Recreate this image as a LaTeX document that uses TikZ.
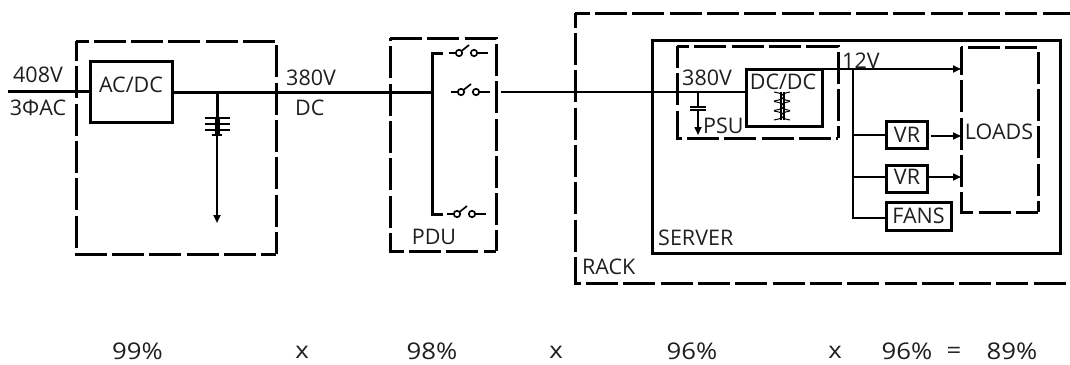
\documentclass[tikz,border=0pt]{standalone}
\usepackage{fontspec}
\setmainfont{Open Sans}
\newfontfamily\widefont[FakeStretch=1.12]{Open Sans}
\usetikzlibrary{arrows.meta}
\tikzset{
  x=1pt,y=-1pt,
  every node/.style={font=\fontsize{21.5}{23}\selectfont,text=black!88},
  lbl/.style={inner sep=0pt},
  big/.style={font=\widefont\fontsize{23}{24}\selectfont},
  dbox/.style={line width=3pt,dash pattern=on 32pt off 5.3pt,dash phase=#1},
  sbox/.style={draw,line width=3pt,inner sep=0pt,minimum width=#1},
  wire/.style={line width=2.2pt},
  thick wire/.style={line width=3pt},
  tip/.style={-{Triangle[length=8pt,width=7pt]}},
  pics/sw/.style={code={
    \draw[line width=1.7pt] (0,0) -- (7,0);
    \draw[line width=1.7pt] (10,0) circle[radius=3.2];
    \draw[line width=1.7pt] (12.5,-2) -- (20,-8);
    \draw[line width=1.7pt] (25,0) circle[radius=3.2];
    \draw[line width=1.7pt] (28,0) -- (39,0);
  }}
}
\begin{document}
\begin{tikzpicture}
\useasboundingbox (0,0) rectangle (1070,364);
% left block
\draw[dbox=19.5pt] (76,41) -- (276,41) -- (276,254);
\draw[dbox=12pt] (76,41) -- (76,254) -- (276,254);
\node[sbox=82pt,minimum height=61pt] (acdc) at (131,91.5) {};
\node[lbl] at (131,85) {AC/DC};
\coordinate (in) at (8,91.5);
\coordinate (busA) at (432,92);
\coordinate (tapA) at (217,92);
\coordinate (plateA) at (217,118);
\coordinate (gndA) at (217,223);
\draw[thick wire] (in) -- (acdc.west);
\draw[thick wire] (acdc.east |- tapA) -- (busA);
\draw[thick wire] (tapA) -- (plateA);
\draw[wire,tip] (plateA) -- (gndA);
\draw[line width=2pt] (205,118) -- (230,118) (205,130) -- (230,130);
\draw[line width=2pt] (205,124) -- (230,124) (212,135) -- (222,135);
\draw[line width=5pt] (217,118) -- (217,134);
\node[lbl] at (38,75) {408V};
\node[lbl] at (38,108) {3ΦAC};
\node[lbl,anchor=west] at (286,78) {380V};
\node[lbl,anchor=west] at (295,108) {DC};
% PDU
\draw[dbox=0pt] (390,38) -- (496,38) -- (496,251);
\draw[dbox=29pt] (390,38) -- (390,251) -- (496,251);
\coordinate (busT) at (443,53);
\coordinate (busB) at (443,214);
\draw[thick wire] (busT) -- (432,53) -- (432,214) -- (busB);
\pic at (449,53) {sw};
\pic at (451,92) {sw};
\pic at (447,214) {sw};
\node[lbl] at (434,237) {PDU};
% rack
\draw[dbox=17.3pt] (575,13) -- (1070,13);
\draw[dbox=17.3pt] (575,13) -- (575,283) -- (1070,283);
\node[lbl,anchor=west] at (582,267) {RACK};
% server
\node[sbox=408pt,minimum height=213pt] (server) at (856,146.5) {};
\node[lbl,anchor=west] at (658,238) {SERVER};
% PSU
\draw[dbox=20pt] (677,46) -- (838,46) -- (838,138);
\draw[dbox=10pt] (677,46) -- (677,138) -- (838,138);
\node[sbox=76pt,minimum height=57pt] (dcdc) at (784,97.5) {};
\node[lbl] at (783,82) {DC/DC};
\node[lbl,anchor=west] at (682,78) {380V};
\node[lbl,anchor=west] at (703,126) {PSU};
\coordinate (pduout) at (501,92);
\coordinate (tapP) at (698,92);
\coordinate (plateP) at (698,107);
\coordinate (gndP) at (698,135);
\draw[wire] (pduout) -- (dcdc.west |- pduout);
\draw[line width=1.6pt] (tapP) -- (plateP);
\draw[line width=1.8pt] (690,107) -- (706,107) (690,110) -- (706,110);
\draw[line width=1.6pt,tip] (698,110) -- (gndP);
% transformer
\draw[line width=1.4pt] (781,92) -- (781,120) (784,92) -- (784,120);
\foreach \yy in {92,101.5,111}{
  \draw[line width=1pt] (774,\yy) .. controls (787,\yy+2) and (787,\yy+7) .. (774,\yy+9);
  \draw[line width=1pt] (790,\yy) .. controls (778,\yy+2) and (778,\yy+7) .. (790,\yy+9);
}
% 12V
\node[sbox=41pt,minimum height=27pt] (vra) at (906.5,134.5) {};
\node[lbl] at (907,134.5) {VR};
\node[sbox=41pt,minimum height=27pt] (vrb) at (906.5,178.5) {};
\node[lbl] at (907,177) {VR};
\node[sbox=65pt,minimum height=28pt] (fans) at (918.5,216) {};
\node[lbl] at (918.5,216) {FANS};
\draw[dbox=30.3pt] (961,47) -- (1038,47) -- (1038,212);
\draw[dbox=4pt] (961,47) -- (961,212) -- (1038,212);
\node[lbl] at (999,132) {LOADS};
\coordinate (loadT) at (961,69);
\coordinate (tap12) at (853,69);
\draw[wire,tip] (822,69) -- (loadT);
\draw[wire] (tap12) -- (853,218) -- (fans.west |- 0,218);
\draw[wire] (853,135) -- (vra.west |- 0,135);
\draw[wire] (853,177) -- (vrb.west |- 0,177);
\draw[line width=1.6pt,tip] (vra.east |- 0,136) ++(2,0) -- (961,136);
\draw[line width=1.6pt,tip] (vrb.east |- 0,177) -- (961,177);
\node[lbl,anchor=west] at (842,61) {12V};
% efficiencies
\node[lbl,big] at (137.5,351) {99\%};
\node[lbl,big] at (302,352) {x};
\node[lbl,big] at (432,351) {98\%};
\node[lbl,big] at (556,352) {x};
\node[lbl,big] at (692,351) {96\%};
\node[lbl,big] at (835,352) {x};
\node[lbl,big] at (907,351) {96\%};
\node[lbl,big] at (954,353) {=};
\node[lbl,big] at (1012,351) {89\%};
\end{tikzpicture}
\end{document}
